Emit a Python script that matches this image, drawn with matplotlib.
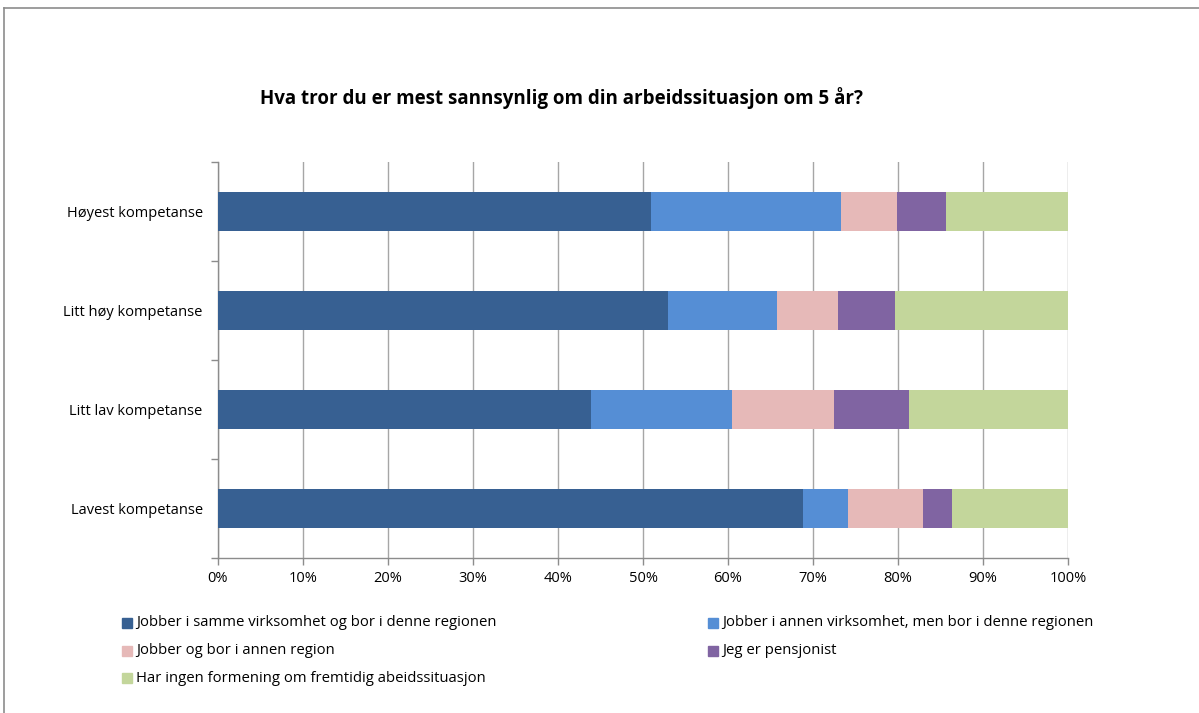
import matplotlib
matplotlib.use('Agg')
from matplotlib import pyplot, patches
from matplotlib.ticker import MultipleLocator, PercentFormatter

plt = pyplot
plt.rcParams['font.family'] = ['Open Sans', 'DejaVu Sans']

categories = ['Høyest kompetanse', 'Litt høy kompetanse', 'Litt lav kompetanse', 'Lavest kompetanse']
series_names = [
    'Jobber i samme virksomhet og bor i denne regionen',
    'Jobber i annen virksomhet, men bor i denne regionen',
    'Jobber og bor i annen region',
    'Jeg er pensjonist',
    'Har ingen formening om fremtidig abeidssituasjon',
]
same_firm = [50.9, 52.9, 43.9, 68.8]
other_firm = [22.4, 12.9, 16.6, 5.3]
other_region = [6.6, 7.1, 12.0, 8.8]
retired = [5.7, 6.7, 8.8, 3.5]
no_opinion = [14.4, 20.4, 18.7, 13.6]
series = [same_firm, other_firm, other_region, retired, no_opinion]
colors = ['#376092', '#558ed5', '#e6b9b8', '#8064a2', '#c3d69b']
title = 'Hva tror du er mest sannsynlig om din arbeidssituasjon om 5 år?'

W, H = 1199, 713
fig = plt.figure(figsize=(W / 100, H / 100), dpi=100)

# ytre ramme (bare topp og venstre synlig)
fig.add_artist(pyplot.Line2D([4 / W, 1], [1 - 8 / H, 1 - 8 / H], color='#8c8c8c', lw=1.2))
fig.add_artist(pyplot.Line2D([4 / W, 4 / W], [0, 1 - 8 / H], color='#8c8c8c', lw=1.2))

ax = fig.add_axes([218 / W, 1 - 558 / H, 850 / W, 396 / H])

ypos = list(range(len(categories)))
left = [0] * len(categories)
for vals, name, col in zip(series, series_names, colors):
    ax.barh(ypos, vals, left=left, height=0.4, color=col, label=name, zorder=3)
    left = [a + b for a, b in zip(left, vals)]

ax.set_xlim(0, 100)
ax.set_ylim(len(categories) - 0.5, -0.5)
ax.xaxis.set_major_locator(MultipleLocator(10))
ax.xaxis.set_major_formatter(PercentFormatter(decimals=0))
ax.grid(axis='x', color='#a6a6a6', lw=1, zorder=0)
ax.set_yticks(ypos)
ax.set_yticklabels(categories, fontsize=10.5)
ax.set_yticks([y - 0.5 for y in ypos] + [len(categories) - 0.5], minor=True)
ax.tick_params(axis='y', which='major', length=0, pad=11)
ax.tick_params(axis='y', which='minor', length=5, color='#8c8c8c', width=1)
ax.tick_params(axis='x', length=5, color='#8c8c8c', width=1, labelsize=10.5, pad=4)
for s in ['top', 'right']:
    ax.spines[s].set_visible(False)
for s in ['left', 'bottom']:
    ax.spines[s].set_color('#8c8c8c')
    ax.spines[s].set_linewidth(1)

fig.text(562 / W, 1 - 98 / H, title, ha='center', va='center', fontsize=13.5, fontweight='bold')

# forklaring
slots = [(122, 623), (708, 623), (122, 651), (708, 651), (122, 678)]
for (x, y), name, col in zip(slots, series_names, colors):
    fig.add_artist(patches.Rectangle((x / W, 1 - (y + 5) / H), 10 / W, 10 / H,
                                     transform=fig.transFigure, color=col))
    fig.text((x + 14) / W, 1 - y / H, name, ha='left', va='center', fontsize=10.7)

fig.savefig('out.png', dpi=100)
